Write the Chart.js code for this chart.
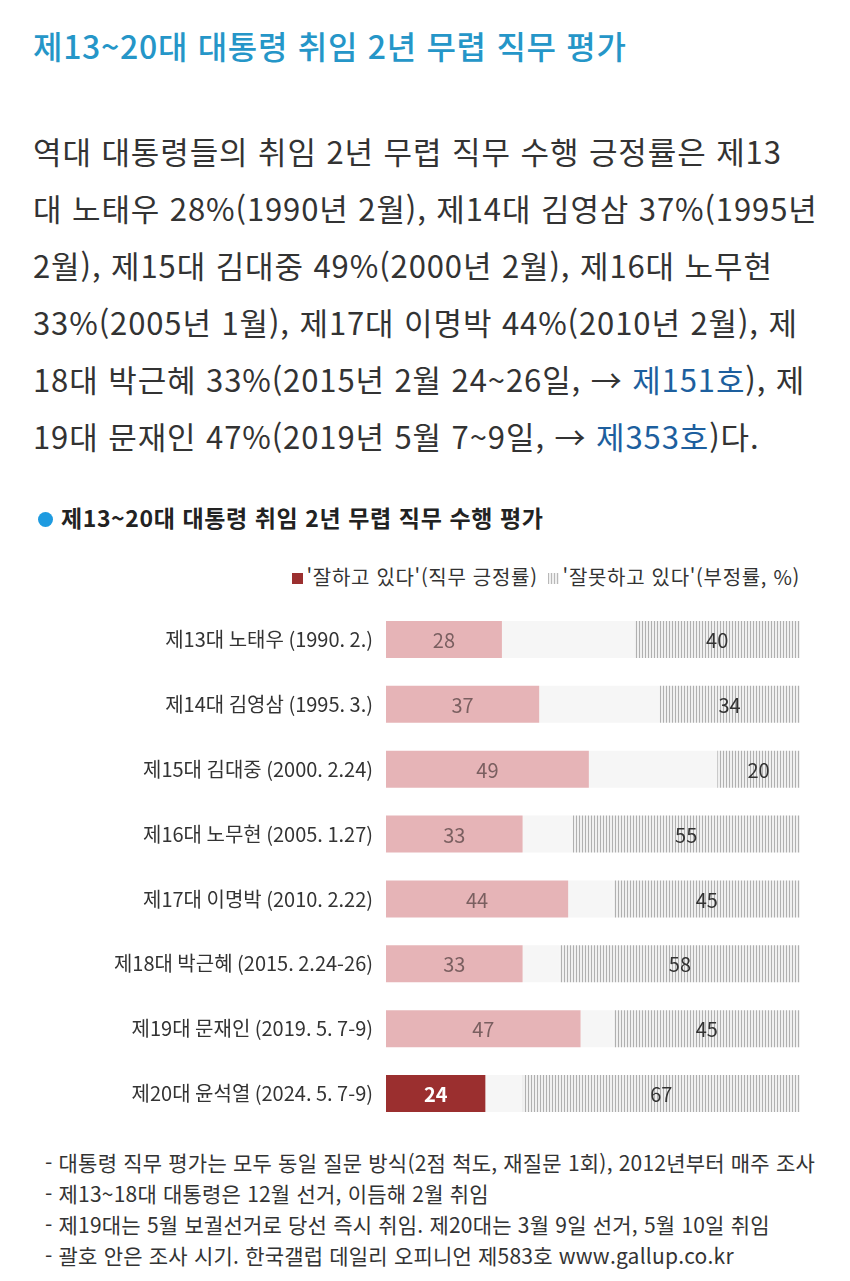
<!DOCTYPE html>
<html lang="ko">
<head>
<meta charset="utf-8">
<script src="https://cdn.jsdelivr.net/npm/chart.js@4/dist/chart.umd.min.js"></script>
<style>
	body { margin: 0; background: #fff; font-family: "Noto Sans CJK KR", "Noto Sans", sans-serif; color: #333; }
	.page { position: relative; width: 850px; height: 1281px; overflow: hidden; }
	h1 { position: absolute; left: 33px; top: 21px; margin: 0; font-size: 32px; line-height: 48px; font-weight: 500; color: #2596c8; letter-spacing: 0.7px; }
	.intro { position: absolute; left: 33px; top: 122px; margin: 0; font-size: 31px; line-height: 57px; color: #333; letter-spacing: 0.9px; white-space: nowrap; }
	.intro a { color: #1d5f9e; text-decoration: none; }
	.ctitle { position: absolute; left: 38px; top: 500px; font-size: 23px; line-height: 34px; font-weight: 700; color: #222; letter-spacing: 0.6px; }
	.ctitle::before { content: ""; display: inline-block; width: 15px; height: 15px; border-radius: 50%; background: #1e9be0; margin-right: 8px; vertical-align: 0; }
	.legend { position: absolute; right: 50px; top: 561px; font-size: 20px; line-height: 32px; color: #333; letter-spacing: 0.7px; }
	.legend span { margin-left: 10px; }
	.legend i { display: inline-block; width: 11px; height: 11px; margin-right: 4px; vertical-align: 1px; }
	.sw-pos { background: #9b2f2f; }
	.sw-neg { background: repeating-linear-gradient(90deg, #b8b8b8 0 1px, #f0f0f0 1px 3px); }
	.chart-box { position: absolute; left: 0; top: 590px; width: 850px; height: 553px; }
	.notes { position: absolute; left: 45px; top: 1147px; margin: 0; padding: 0; list-style: none; font-size: 21px; line-height: 31px; color: #333; letter-spacing: 0.2px; white-space: nowrap; }
</style>
</head>
<body>
<div class="page">
	<h1>제13~20대 대통령 취임 2년 무렵 직무 평가</h1>
	<p class="intro">역대 대통령들의 취임 2년 무렵 직무 수행 긍정률은 제13<br>대 노태우 28%(1990년 2월), 제14대 김영삼 37%(1995년<br>2월), 제15대 김대중 49%(2000년 2월), 제16대 노무현<br>33%(2005년 1월), 제17대 이명박 44%(2010년 2월), 제<br>18대 박근혜 33%(2015년 2월 24~26일, → <a>제151호</a>), 제<br>19대 문재인 47%(2019년 5월 7~9일, → <a>제353호</a>)다.</p>
	<div class="ctitle">제13~20대 대통령 취임 2년 무렵 직무 수행 평가</div>
	<div class="legend"><span><i class="sw-pos"></i>'잘하고 있다'(직무 긍정률)</span><span><i class="sw-neg"></i>'잘못하고 있다'(부정률, %)</span></div>
	<div class="chart-box"><canvas id="jobChart"></canvas></div>
	<ul class="notes">
		<li>- 대통령 직무 평가는 모두 동일 질문 방식(2점 척도, 재질문 1회), 2012년부터 매주 조사</li>
		<li>- 제13~18대 대통령은 12월 선거, 이듬해 2월 취임</li>
		<li>- 제19대는 5월 보궐선거로 당선 즉시 취임. 제20대는 3월 9일 선거, 5월 10일 취임</li>
		<li>- 괄호 안은 조사 시기. 한국갤럽 데일리 오피니언 제583호 www.gallup.co.kr</li>
	</ul>
</div>
<script>
const presidents = [
	"제13대 노태우 (1990. 2.)",
	"제14대 김영삼 (1995. 3.)",
	"제15대 김대중 (2000. 2.24)",
	"제16대 노무현 (2005. 1.27)",
	"제17대 이명박 (2010. 2.22)",
	"제18대 박근혜 (2015. 2.24-26)",
	"제19대 문재인 (2019. 5. 7-9)",
	"제20대 윤석열 (2024. 5. 7-9)",
];
const positive = [28, 37, 49, 33, 44, 33, 47, 24];
const negative = [40, 34, 20, 55, 45, 58, 45, 67];
const rest = positive.map((p, i) => 100 - p - negative[i]);

// 세로 줄무늬 패턴 (부정률)
const pc = document.createElement("canvas");
pc.width = 3;
pc.height = 3;
const pctx = pc.getContext("2d");
pctx.fillStyle = "#f0f0f0";
pctx.fillRect(0, 0, 3, 3);
pctx.fillStyle = "#b0b0b0";
pctx.fillRect(0, 0, 1, 3);
const hatch = pctx.createPattern(pc, "repeat");

const posColors = positive.map((v, i) => (i === positive.length - 1 ? "#9b2f2f" : "#e6b4b7"));

const valueLabels = {
	id: "valueLabels",
	afterDatasetsDraw(chart) {
		const c = chart.ctx;
		c.save();
		c.textAlign = "center";
		c.textBaseline = "middle";
		[0, 2].forEach((di) => {
			const meta = chart.getDatasetMeta(di);
			const values = chart.data.datasets[di].data;
			meta.data.forEach((bar, i) => {
				const last = i === values.length - 1;
				if (di === 0) {
					c.fillStyle = last ? "#fff" : "#7a5f60";
					c.font = (last ? "bold " : "") + "20px 'Noto Sans CJK KR', sans-serif";
				} else {
					c.fillStyle = "#333";
					c.font = "20px 'Noto Sans CJK KR', sans-serif";
				}
				c.fillText(values[i], (bar.x + bar.base) / 2, bar.y + 1);
			});
		});
		c.restore();
	},
};

const chart = new Chart(document.getElementById("jobChart"), {
	type: "bar",
	data: {
		labels: presidents,
		datasets: [
			{ label: "잘하고 있다", data: positive, backgroundColor: posColors },
			{ label: "기타", data: rest, backgroundColor: "#f6f6f6" },
			{ label: "잘못하고 있다", data: negative, backgroundColor: hatch },
		],
	},
	options: {
		indexAxis: "y",
		responsive: true,
		maintainAspectRatio: false,
		animation: false,
		layout: { padding: { left: 0, right: 50, top: 0, bottom: 0 } },
		datasets: { bar: { categoryPercentage: 1, barPercentage: 0.57, borderWidth: 0 } },
		plugins: { legend: { display: false }, tooltip: { enabled: false } },
		scales: {
			x: { stacked: true, min: 0, max: 100, display: false },
			y: {
				stacked: true,
				grid: { display: false },
				border: { display: false },
				ticks: { padding: 5, color: "#333", font: { size: 20, family: "'Noto Sans CJK KR', sans-serif" } },
				afterFit: (axis) => { axis.width = 386; },
			},
		},
	},
	plugins: [valueLabels],
});
</script>
</body>
</html>
